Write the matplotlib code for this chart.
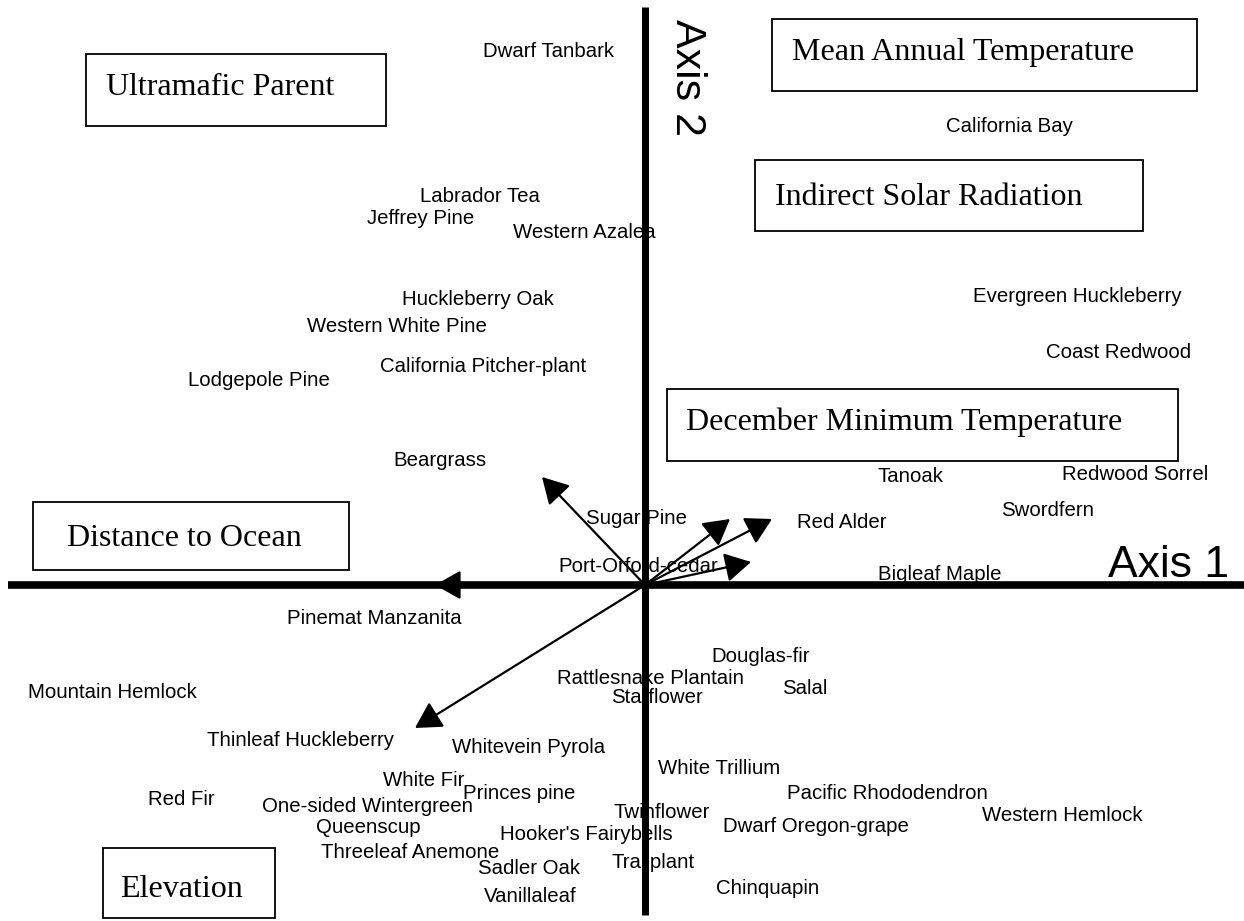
import matplotlib.pyplot as plt
from matplotlib.patches import Rectangle, FancyArrowPatch

# species scores on the two ordination axes
species = ['Dwarf Tanbark', 'California Bay', 'Labrador Tea', 'Jeffrey Pine', 'Western Azalea',
           'Huckleberry Oak', 'Western White Pine', 'Evergreen Huckleberry', 'California Pitcher-plant',
           'Lodgepole Pine', 'Coast Redwood', 'Beargrass', 'Tanoak', 'Redwood Sorrel', 'Swordfern',
           'Sugar Pine', 'Red Alder', 'Port-Orford-cedar', 'Bigleaf Maple', 'Pinemat Manzanita',
           'Douglas-fir', 'Rattlesnake Plantain', 'Starflower', 'Salal', 'Mountain Hemlock',
           'Thinleaf Huckleberry', 'Whitevein Pyrola', 'White Trillium', 'White Fir',
           'Pacific Rhododendron', 'Princes pine', 'Red Fir', 'One-sided Wintergreen',
           'Western Hemlock', 'Twinflower', 'Queenscup', 'Dwarf Oregon-grape', "Hooker's Fairybells",
           'Threeleaf Anemone', 'Trailplant', 'Sadler Oak', 'Chinquapin', 'Vanillaleaf']
axis1 = [-1.62, 3.01, -2.25, -2.78, -1.32, -2.43, -3.38, 3.28, -2.65, -4.57, 4.01, -2.52, 2.33,
         4.17, 3.56, -0.59, 1.52, -0.87, 2.33, -3.58, 0.66, -0.88, -0.34, 1.37, -6.17, -4.38,
         -1.93, 0.13, -2.62, 1.42, -1.82, -4.97, -3.83, 3.37, -0.31, -3.29, 0.78, -1.45, -3.24,
         -0.34, -1.67, 0.71, -1.61]
axis2 = [5.33, 4.58, 3.89, 3.67, 3.53, 2.86, 2.58, 2.89, 2.19, 2.05, 2.33, 1.25, 1.08, 1.11,
         0.74, 0.66, 0.63, 0.18, 0.10, -0.34, -0.71, -0.93, -1.12, -1.04, -1.07, -1.55, -1.62,
         -1.83, -1.95, -2.08, -2.08, -2.14, -2.21, -2.30, -2.28, -2.42, -2.41, -2.49, -2.67,
         -2.78, -2.84, -3.03, -3.11]

# environmental vectors (biplot arrow tips)
vec_x = [-1.03, 0.85, 1.27, 1.06, -2.10, -2.30]
vec_y = [1.08, 0.66, 0.66, 0.23, 0.00, -1.43]

# variable labels in boxes: (x0, y0, x1, y1) and text anchor
env_labels = ['Ultramafic Parent', 'Mean Annual Temperature', 'Indirect Solar Radiation',
              'December Minimum Temperature', 'Distance to Ocean', 'Elevation']
box_x0 = [-5.59, 1.27, 1.10, 0.22, -6.12, -5.42]
box_x1 = [-2.59, 5.52, 4.98, 5.33, -2.96, -3.70]
box_y0 = [4.59, 4.94, 3.54, 1.24, 0.15, -3.33]
box_y1 = [5.31, 5.66, 4.25, 1.96, 0.83, -2.63]
txt_x = [-5.39, 1.47, 1.30, 0.41, -5.78, -5.25]
txt_y = [4.90, 5.25, 3.80, 1.55, 0.39, -3.12]

fig = plt.figure(figsize=(12.44, 9.21), dpi=100)
ax = fig.add_axes([0, 0, 1, 1])
ax.set_xlim(-6.45, 5.99)
ax.set_ylim(-3.36, 5.85)
ax.axis('off')

# axes of the ordination
ax.plot([-6.37, 6.2], [0, 0], color='black', lw=5.5, solid_capstyle='butt')
ax.plot([0, 0], [-3.30, 5.78], color='black', lw=5.0, solid_capstyle='butt')
ax.text(4.63, 0.08, 'Axis 1', fontsize=32, family='Liberation Sans', va='baseline', ha='left')
ax.text(0.42, 5.07, 'Axis 2', fontsize=31, family='Liberation Sans', rotation=270,
        va='center', ha='center')

for vx, vy in zip(vec_x, vec_y):
    arr = FancyArrowPatch((0, 0), (vx, vy), arrowstyle='-|>,head_length=0.8,head_width=0.45',
                          mutation_scale=20, lw=1.6, color='black', shrinkA=0, shrinkB=0, zorder=3)
    ax.add_patch(arr)

for name, x, y in zip(species, axis1, axis2):
    ax.text(x, y, name, fontsize=14.7, family='Liberation Sans', ha='left', va='center', zorder=4)

for i in range(len(env_labels)):
    ax.add_patch(Rectangle((box_x0[i], box_y0[i]), box_x1[i] - box_x0[i], box_y1[i] - box_y0[i],
                           fill=False, ec='black', lw=1.3))
    ax.text(txt_x[i], txt_y[i], env_labels[i], fontsize=23, family='Liberation Serif',
            ha='left', va='baseline')

plt.savefig('out.png', dpi=100)
